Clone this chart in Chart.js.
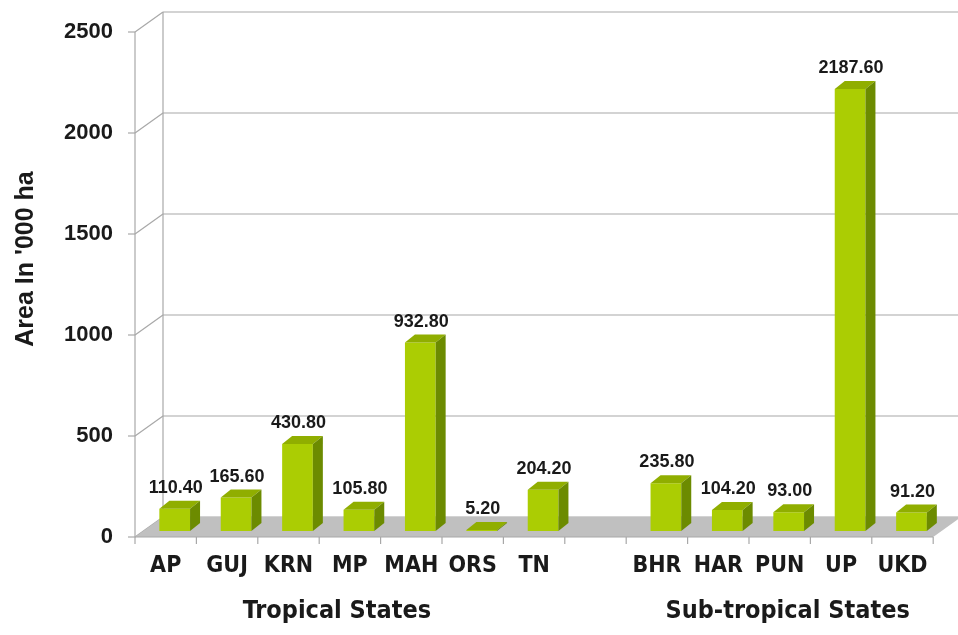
<!DOCTYPE html>
<html>
<head>
<meta charset="utf-8">
<script src="https://cdn.jsdelivr.net/npm/chart.js@4.4.1/dist/chart.umd.min.js"></script>
<style>
  html, body { margin: 0; padding: 0; background: #ffffff; }
  #wrap { width: 958px; height: 635px; position: relative; }
</style>
</head>
<body>
<div id="wrap"><canvas id="c" width="958" height="635"></canvas></div>
<script>
// ---- data ----
const categories = ['AP', 'GUJ', 'KRN', 'MP', 'MAH', 'ORS', 'TN', '', 'BHR', 'HAR', 'PUN', 'UP', 'UKD'];
const areaValues = [110.40, 165.60, 430.80, 105.80, 932.80, 5.20, 204.20, null, 235.80, 104.20, 93.00, 2187.60, 91.20];
const yTickValues = [0, 500, 1000, 1500, 2000, 2500];
const groupTitles = ['Tropical States', 'Sub-tropical States'];
const groupFirst = [0, 8];
const groupLast = [6, 12];
const yAxisTitle = "Area In '000 ha";

// ---- style ----
const WALL_DX = 28, WALL_DY = -20;   // depth of the floor / back wall
const BAR_OX = 9, BAR_OY = -6;       // bar front plane offset from axis plane
const BAR_DX = 10, BAR_DY = -8;      // bar extrusion depth
const GROUP_NUDGE = [-13, 8];
const C_FRONT = '#abcd03', C_TOP = '#90ae00', C_SIDE = '#6c8b00';
const C_GRID = '#a8a8a8', C_FLOOR = '#c0c0c0';
const NARROW = '"Liberation Sans Narrow", "Arial Narrow", "DejaVu Sans Condensed", sans-serif';
const SANS = '"Liberation Sans", Arial, sans-serif';

function line(ctx, x0, y0, x1, y1) {
  ctx.beginPath(); ctx.moveTo(x0, y0); ctx.lineTo(x1, y1); ctx.stroke();
}
function poly(ctx, pts, color) {
  ctx.beginPath();
  ctx.moveTo(pts[0][0], pts[0][1]);
  for (let i = 1; i < pts.length; i++) ctx.lineTo(pts[i][0], pts[i][1]);
  ctx.closePath();
  ctx.fillStyle = color; ctx.fill();
}

const frame3d = {
  id: 'frame3d',
  beforeDatasetsDraw(chart) {
    const { ctx, chartArea: ca, scales: { x, y } } = chart;
    const fx0 = ca.left - BAR_OX, fx1 = ca.right - BAR_OX;
    const fy = v => y.getPixelForValue(v) - BAR_OY;
    ctx.save();
    ctx.strokeStyle = C_GRID; ctx.lineWidth = 1.2;
    const vmax = yTickValues[yTickValues.length - 1];
    yTickValues.forEach(v => {
      const yy = fy(v);
      line(ctx, fx0 + WALL_DX, yy + WALL_DY, chart.width + 10, yy + WALL_DY);
      line(ctx, fx0, yy, fx0 + WALL_DX, yy + WALL_DY);
      line(ctx, fx0 - 7, yy, fx0, yy);
    });
    line(ctx, fx0, fy(0), fx0, fy(vmax));
    line(ctx, fx0 + WALL_DX, fy(0) + WALL_DY, fx0 + WALL_DX, fy(vmax) + WALL_DY);
    // floor
    const y0 = fy(0);
    poly(ctx, [[fx0, y0], [fx1, y0], [fx1 + WALL_DX, y0 + WALL_DY], [fx0 + WALL_DX, y0 + WALL_DY]], C_FLOOR);
    // x axis line + ticks
    ctx.strokeStyle = C_GRID;
    line(ctx, fx0, y0, fx1, y0);
    const n = categories.length;
    for (let i = 0; i <= n; i++) {
      const xx = fx0 + i * (fx1 - fx0) / n;
      line(ctx, xx, y0, xx, y0 + 7);
    }
    ctx.restore();
  },
  afterDatasetsDraw(chart) {
    const { ctx } = chart;
    const meta = chart.getDatasetMeta(0);
    ctx.save();
    meta.data.forEach((el, i) => {
      const v = areaValues[i];
      if (v === null || v === undefined) return;
      const p = el.getProps(['x', 'y', 'base', 'width'], true);
      const x0 = p.x - p.width / 2, x1 = p.x + p.width / 2;
      const top = p.y, base = p.base;
      // top face
      poly(ctx, [[x0, top], [x1, top], [x1 + BAR_DX, top + BAR_DY], [x0 + BAR_DX, top + BAR_DY]], C_TOP);
      // side face
      poly(ctx, [[x1, top], [x1 + BAR_DX, top + BAR_DY], [x1 + BAR_DX, base + BAR_DY], [x1, base]], C_SIDE);
      // value label
      ctx.fillStyle = '#1a1a1a';
      ctx.font = 'bold 18px ' + SANS;
      ctx.textAlign = 'center';
      ctx.textBaseline = 'alphabetic';
      ctx.fillText(v.toFixed(2), p.x + 1, top - 16);
    });
    ctx.restore();
  },
  afterDraw(chart) {
    const { ctx, scales: { x } } = chart;
    ctx.save();
    ctx.fillStyle = '#1a1a1a';
    ctx.textAlign = 'center';
    ctx.textBaseline = 'alphabetic';
    ctx.font = 'bold 25px ' + NARROW;
    groupTitles.forEach((t, g) => {
      const cx = (x.getPixelForValue(groupFirst[g]) + x.getPixelForValue(groupLast[g])) / 2 - BAR_OX + GROUP_NUDGE[g];
      ctx.fillText(t, cx, 618);
    });
    // y axis title
    ctx.translate(33, 259);
    ctx.rotate(-Math.PI / 2);
    ctx.font = 'bold 25px ' + SANS;
    ctx.fillText(yAxisTitle, 0, 0);
    ctx.restore();
  }
};

new Chart(document.getElementById('c'), {
  type: 'bar',
  data: {
    labels: categories,
    datasets: [{
      data: areaValues,
      backgroundColor: C_FRONT,
      borderWidth: 0,
      barPercentage: 0.5,
      categoryPercentage: 1.0
    }]
  },
  options: {
    responsive: false,
    animation: false,
    devicePixelRatio: 1,
    layout: { padding: { top: 26, right: 13, left: 0, bottom: 0 } },
    plugins: { legend: { display: false }, tooltip: { enabled: false }, title: { display: false } },
    scales: {
      x: {
        type: 'category',
        grid: { display: false, drawTicks: false },
        border: { display: false },
        ticks: {
          autoSkip: false, maxRotation: 0, minRotation: 0,
          padding: 21, labelOffset: -BAR_OX,
          color: '#1a1a1a',
          font: { family: NARROW, size: 23, weight: 'bold' }
        },
        afterFit(scale) { scale.height = 104; }
      },
      y: {
        min: 0, max: 2500,
        grid: { display: false, drawTicks: false },
        border: { display: false },
        ticks: {
          stepSize: 500,
          padding: 31, labelOffset: -BAR_OY,
          color: '#1a1a1a',
          font: { family: SANS, size: 22, weight: 'bold' },
          callback: v => String(v)
        },
        afterBuildTicks(scale) { scale.ticks = yTickValues.map(v => ({ value: v })); },
        afterFit(scale) { scale.width = 144; scale.paddingTop = 0; scale.paddingBottom = 0; }
      }
    }
  },
  plugins: [frame3d]
});
</script>
</body>
</html>
